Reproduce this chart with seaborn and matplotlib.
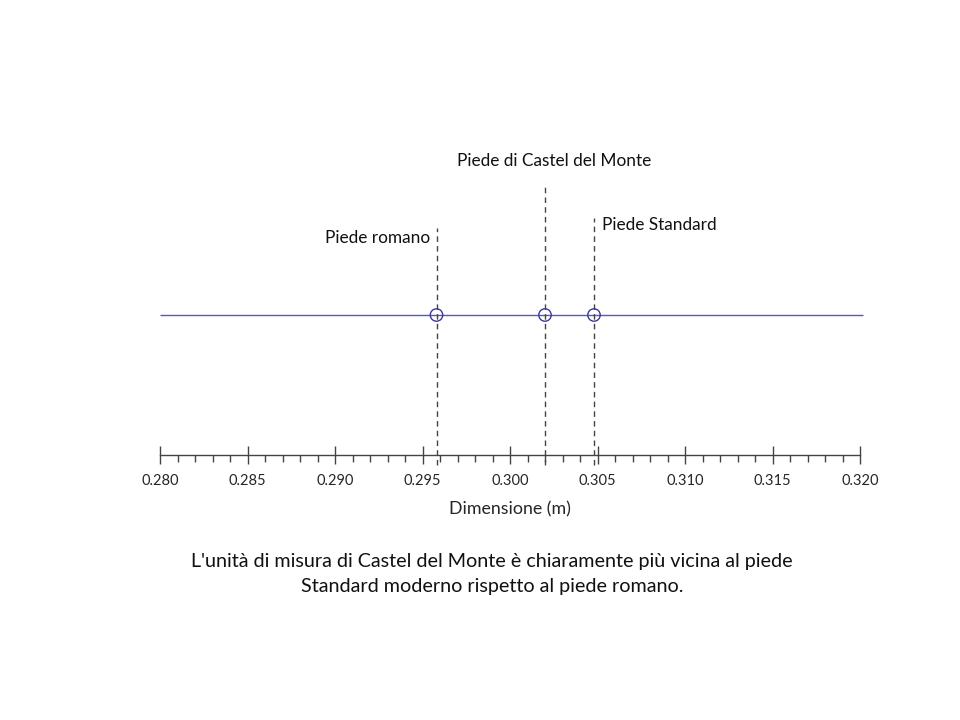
import matplotlib
matplotlib.use("Agg")
import matplotlib.pyplot as plt
import seaborn as sns
import pandas as pd
from matplotlib.ticker import MultipleLocator, FormatStrFormatter

# ---- data ----
names = ["Piede romano", "Piede di Castel del Monte", "Piede Standard"]
values = [0.2958, 0.3020, 0.3048]
x_range = [0.280, 0.320]
x_label = "Dimensione (m)"
caption = ("L'unità di misura di Castel del Monte è chiaramente più vicina al piede\n"
           "Standard moderno rispetto al piede romano.")

# ---- layout (not data) ----
line_tops = [0.744, 0.892, 0.777]
label_pos = [(-0.00035, 0.711, "right"), (0.3025, 0.964, "center"), (0.30525, 0.754, "left")]
row_y = 0.459

sns.set_theme(style="white")
plt.rcParams['font.family'] = ['Lato', 'DejaVu Sans']

fig = plt.figure(figsize=(9.6, 7.2), dpi=100)
ax = fig.add_axes([160/960, 1-455/720, 700/960, 305/720])

df = pd.DataFrame({"name": names, "value": values, "y": [row_y]*len(values)})

ax.hlines(row_y, x_range[0], 0.32015, color="#5b5ba0", lw=1.0, clip_on=False, zorder=1)
for v, top in zip(values, line_tops):
    ax.vlines(v, -0.033, top, colors="#444444", linestyles=(0, (4, 3)), lw=1.0, clip_on=False, zorder=2)
sns.scatterplot(data=df, x="value", y="y", ax=ax, s=80, marker="o",
                facecolor="none", edgecolor="#3a3a9a", linewidth=1.0, zorder=3, legend=False)

for (dx, yy, ha), v, n in zip(label_pos, values, names):
    xx = v + dx if ha == "right" else dx
    ax.text(xx, yy, n, ha=ha, va="center", fontsize=12.4, color="#111111")

ax.set_xlim(*x_range)
ax.set_ylim(0, 1)
ax.xaxis.set_major_locator(MultipleLocator(0.005))
ax.xaxis.set_minor_locator(MultipleLocator(0.001))
ax.xaxis.set_major_formatter(FormatStrFormatter("%.3f"))
ax.tick_params(axis="x", which="major", direction="inout", length=13, width=1, color="#444444",
               labelsize=10.5, pad=7, bottom=True)
ax.tick_params(axis="x", which="minor", direction="out", length=5, width=1, color="#444444", bottom=True)
ax.set_yticks([])
ax.set_ylabel("")
ax.set_xlabel(x_label, fontsize=12.8, labelpad=10)
for s in ["left", "right", "top"]:
    ax.spines[s].set_visible(False)
ax.spines["bottom"].set_color("#444444")
ax.spines["bottom"].set_linewidth(1.0)
ax.patch.set_alpha(0)

fig.text(492/960, 1-574/720, caption, ha="center", va="center", fontsize=14.2,
         linespacing=1.55, color="#111111")

fig.savefig("out.png", dpi=100, facecolor="white")
